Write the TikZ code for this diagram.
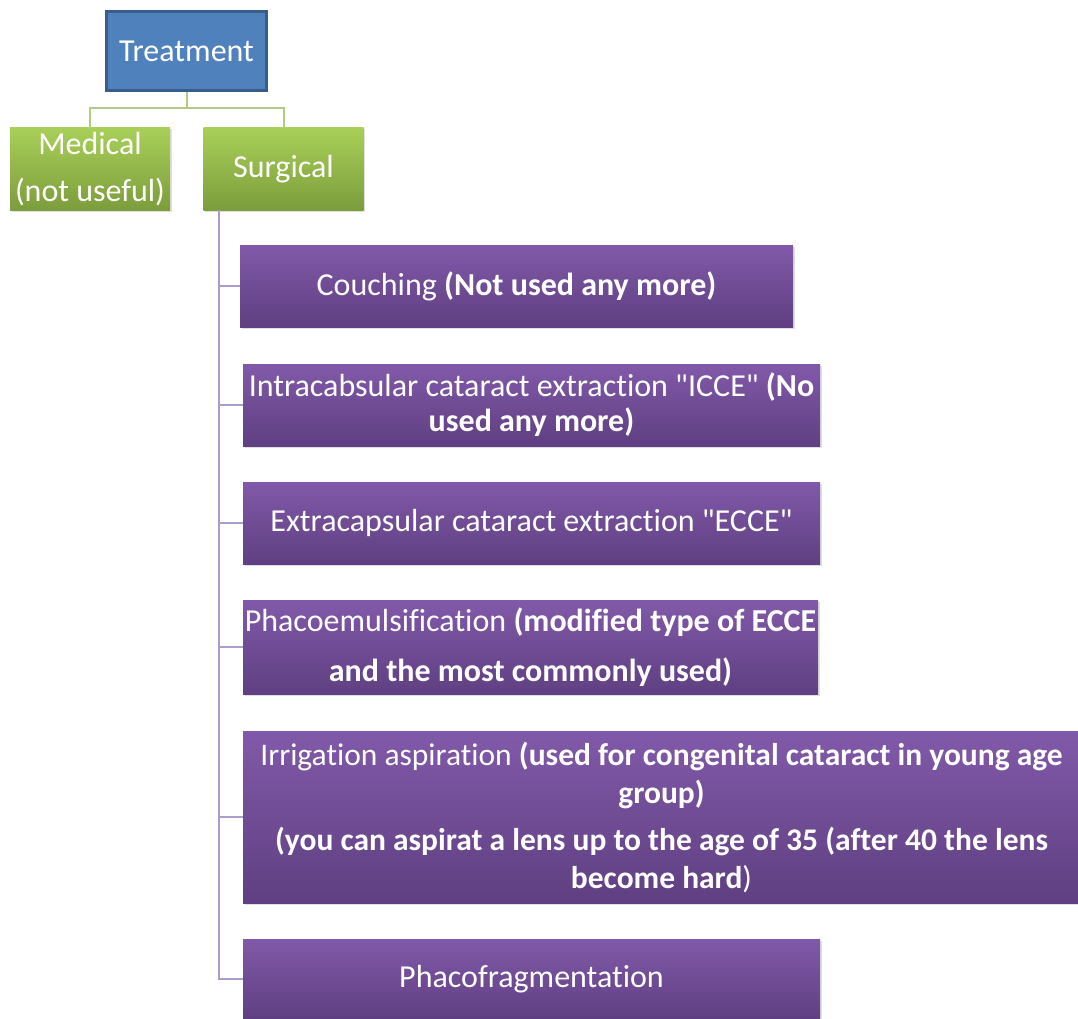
\documentclass[tikz,border=0pt]{standalone}
\usepackage{fontspec}
\setmainfont{Carlito}[Ligatures={TeXOff, NoCommon}]
\usetikzlibrary{positioning, shadows}
\definecolor{trtblue}{HTML}{4F81BD}
\definecolor{trtedge}{HTML}{385D8A}
\definecolor{grtop}{HTML}{A8CF58}
\definecolor{grbot}{HTML}{7C9D3C}
\definecolor{grline}{HTML}{B0CC84}
\definecolor{putop}{HTML}{8159A9}
\definecolor{pubot}{HTML}{5F3F81}
\definecolor{puline}{HTML}{AD9BCB}
\tikzset{
  trt/.style   ={draw=trtedge, fill=trtblue, line width=2.5pt, text=white, inner sep=0pt,
                 minimum width=160, minimum height=79, font=\fontsize{32}{36}\selectfont},
  grn/.style   ={top color=grtop, bottom color=grbot, text=white, inner sep=0pt, align=center,
                 minimum width=160, minimum height=82, font=\fontsize{32}{47}\selectfont,
                 drop shadow={opacity=0.25, shadow xshift=1.5pt, shadow yshift=-1.5pt}},
  prp/.style   ={top color=putop, bottom color=pubot, text=white, inner sep=0pt, align=center,
                 minimum height=82, font=\fontsize{32}{35}\selectfont,
                 drop shadow={opacity=0.25, shadow xshift=1.5pt, shadow yshift=-1.5pt}},
  glink/.style ={draw=grline, line width=2pt},                 % treatment -> branches
  plink/.style ={draw=puline, line width=2pt},                 % surgical trunk -> methods
}

\begin{document}
\begin{tikzpicture}[x=1pt, y=-1pt]
  \useasboundingbox (0,0) rectangle (1078,1019);
  % top level
  \node[trt] (trt)  at (186.5,51) {Treatment};
  \node[grn] (med)  at (90,169)   {Medical\\(not useful)};
  \node[grn] (surg) at (283.5,169) {Surgical};
  \draw[glink] (trt.south) -- ++(0,16) -| (med.north);
  \draw[glink] (trt.south) -- ++(0,16) -| (surg.north);
  % surgical methods
  \coordinate (trunk) at (219,210);
  \node[prp, minimum width=553] (couch) at (516.5,286)
    {Couching \textbf{(Not used any more)}};
  \node[prp, minimum width=577] (icce) at (531.5,405)
    {Intracabsular cataract extraction "ICCE" \textbf{(No}\\\textbf{used any more)}};
  \node[prp, minimum width=577] (ecce) at (531.5,523)
    {Extracapsular cataract extraction "ECCE"};
  \node[prp, minimum width=575, minimum height=94] (phaco) at (530.5,647)
    {Phacoemulsification \textbf{(modified type of ECCE}\\[15pt]\textbf{and the most commonly used)}};
  \node[prp, minimum width=837, minimum height=172, font=\fontsize{31.5}{38}\selectfont] (irrig) at (661.5,817)
    {Irrigation aspiration \textbf{(used for congenital cataract in young age}\\\textbf{group)}\\[9pt]
     \textbf{(you can aspirat a lens up to the age of 35 (after 40 the lens}\\\textbf{become hard})};
  \node[prp, minimum width=577, minimum height=80] (frag) at (531.5,979)
    {Phacofragmentation};
  \foreach \m in {couch, icce, ecce, phaco, irrig, frag}
    \draw[plink] (trunk) |- (\m.west);
\end{tikzpicture}
\end{document}
